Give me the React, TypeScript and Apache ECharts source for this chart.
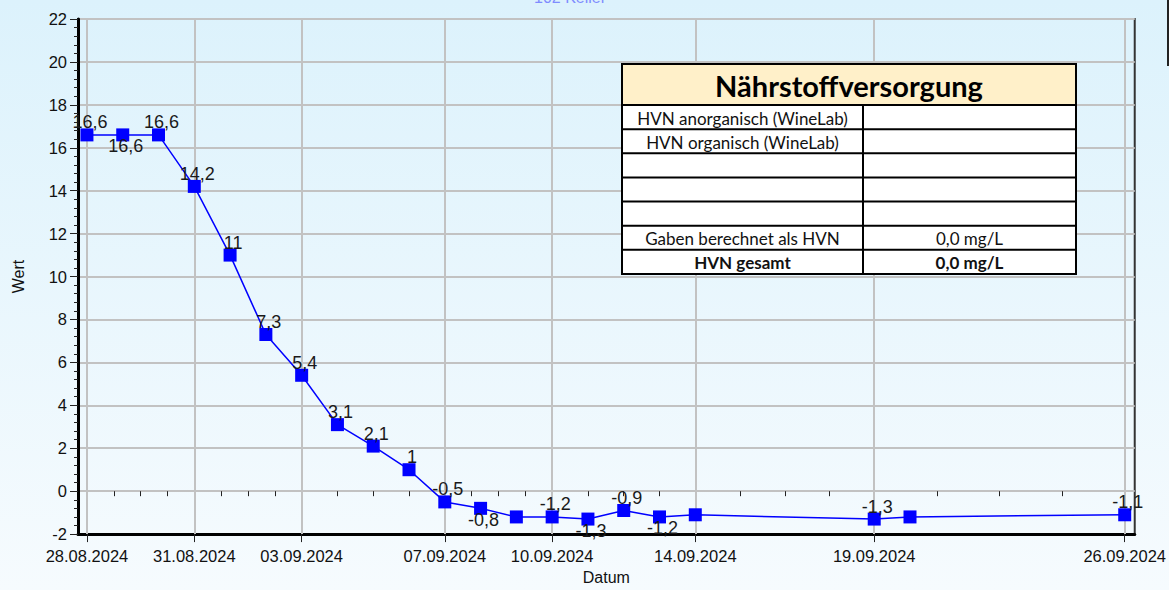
import React, { useEffect, useRef } from "react";
import * as echarts from "echarts";

// ---- data ----
const dates = [
  "2024-08-28", "2024-08-29", "2024-08-30", "2024-08-31", "2024-09-01", "2024-09-02",
  "2024-09-03", "2024-09-04", "2024-09-05", "2024-09-06", "2024-09-07", "2024-09-08",
  "2024-09-09", "2024-09-10", "2024-09-11", "2024-09-12", "2024-09-13", "2024-09-14",
  "2024-09-19", "2024-09-20", "2024-09-26",
];
const values = [
  16.6, 16.6, 16.6, 14.2, 11, 7.3, 5.4, 3.1, 2.1, 1, -0.5, -0.8,
  -1.2, -1.2, -1.3, -0.9, -1.2, -1.1, -1.3, -1.2, -1.1,
];
const labelPlacement = [
  "top", "bottom", "top", "top", "top", "top", "top", "top", "top", "top", "top", "bottom",
  "none", "top", "bottom", "top", "bottom", "none", "top", "none", "top",
];
const xTickDates = [
  "2024-08-28", "2024-08-31", "2024-09-03", "2024-09-07",
  "2024-09-10", "2024-09-14", "2024-09-19", "2024-09-26",
];
const yTicks = { min: -2, max: 22, interval: 2 };
const tableTitle = "Nährstoffversorgung";
const tableLeft = ["HVN anorganisch (WineLab)", "HVN organisch (WineLab)", "", "", "", "Gaben berechnet als HVN", "HVN gesamt"];
const tableRight = ["", "", "", "", "", "0,0 mg/L", "0,0 mg/L"];
const tableBold = [false, false, false, false, false, false, true];
const chartTitle = "102 Keller";

const DAY = 86400000;
const ts = (d: string) => {
  const [y, m, dd] = d.split("-").map(Number);
  return Date.UTC(y, m - 1, dd);
};
const fmt = (v: number) => {
  const d = new Date(Math.round(v));
  const p = (n: number) => String(n).padStart(2, "0");
  return `${p(d.getUTCDate())}.${p(d.getUTCMonth() + 1)}.${d.getUTCFullYear()}`;
};

export default function App() {
  const ref = useRef<HTMLDivElement>(null);
  useEffect(() => {
    document.body.style.margin = "0";
    const chart = echarts.init(ref.current!, null, { renderer: "svg" });
    const majors = xTickDates.map(ts);
    const minors: number[] = [];
    for (let i = 0; i < majors.length - 1; i++) {
      for (let k = 1; k < 4; k++) minors.push(majors[i] + ((majors[i + 1] - majors[i]) * k) / 4);
    }
    const xMin = ts(dates[0]) - 0.25 * DAY;
    const xMax = ts(dates[dates.length - 1]) + 0.28 * DAY;
    const data = dates.map((d, i) => {
      const pos = labelPlacement[i];
      return {
        value: [ts(d), values[i]],
        label:
          pos === "none"
            ? { show: false }
            : { show: true, position: pos, distance: pos === "top" ? -3 : -4 },
      };
    });

    // table geometry
    const tL = 622, tR = 1076, tTop = 64, tTitleB = 105, colX = 863, tB = 274;
    const rowH = (tB - tTitleB) / 7;
    const Z = 100;
    const tableEls: any[] = [];
    tableEls.push({
      type: "rect", z: Z, shape: { x: tL, y: tTop, width: tR - tL, height: tTitleB - tTop },
      style: { fill: "#fff0c9" },
    });
    tableEls.push({
      type: "rect", z: Z, shape: { x: tL, y: tTitleB, width: tR - tL, height: tB - tTitleB },
      style: { fill: "#ffffff" },
    });
    tableEls.push({
      type: "text", z: Z + 2, x: (tL + tR) / 2, y: (tTop + tTitleB) / 2 + 1,
      style: { text: tableTitle, font: "bold 29px Lato", fill: "#000", align: "center", verticalAlign: "middle" },
    });
    for (let i = 0; i < 7; i++) {
      const yTop = tTitleB + i * rowH;
      tableEls.push({
        type: "line", z: Z + 1, shape: { x1: tL, y1: yTop, x2: tR, y2: yTop },
        style: { stroke: "#000", lineWidth: 2 },
      });
      const font = (tableBold[i] ? "bold " : "") + "17px Lato";
      tableEls.push({
        type: "text", z: Z + 2, x: (tL + colX) / 2, y: yTop + rowH / 2 + 1,
        style: { text: tableLeft[i], font, fill: "#111", align: "center", verticalAlign: "middle" },
      });
      tableEls.push({
        type: "text", z: Z + 2, x: (colX + tR) / 2, y: yTop + rowH / 2 + 1,
        style: { text: tableRight[i], font, fill: "#111", align: "center", verticalAlign: "middle" },
      });
    }
    tableEls.push({
      type: "line", z: Z + 1, shape: { x1: colX, y1: tTitleB, x2: colX, y2: tB },
      style: { stroke: "#000", lineWidth: 2 },
    });
    tableEls.push({
      type: "rect", z: Z + 1, shape: { x: tL, y: tTop, width: tR - tL, height: tB - tTop },
      style: { fill: "none", stroke: "#000", lineWidth: 2 },
    });

    chart.setOption({
      animation: false,
      backgroundColor: new echarts.graphic.LinearGradient(0, 0, 0, 1, [
        { offset: 0, color: "#dcf2fc" },
        { offset: 1, color: "#f6fbfe" },
      ]),
      textStyle: { fontFamily: "Liberation Sans, Arial, sans-serif" },
      grid: {
        left: 78, right: 34, top: 19, bottom: 51,
        show: true, borderColor: "#333", borderWidth: 2, backgroundColor: "transparent",
      },
      xAxis: [
        {
          type: "value", min: xMin, max: xMax, scale: true,
          name: "Datum", nameLocation: "middle", nameGap: 34,
          nameTextStyle: { fontSize: 16, color: "#111" },
          axisLine: { show: true, onZero: false, lineStyle: { color: "#000", width: 3 } },
          axisTick: { show: true, customValues: majors, length: 8, lineStyle: { color: "#222", width: 1 } },
          axisLabel: {
            customValues: majors, formatter: (v: number) => fmt(v),
            fontSize: 16.5, color: "#111", margin: 13, hideOverlap: false,
          },
          splitLine: { show: false },
        },
        {
          type: "value", min: xMin, max: xMax, scale: true, position: "bottom",
          axisLine: { show: false },
          axisTick: { show: true, customValues: minors, length: 5, lineStyle: { color: "#222", width: 1 } },
          axisLabel: { show: false },
          splitLine: { show: false },
        },
      ],
      yAxis: {
        type: "value", min: yTicks.min, max: yTicks.max, interval: yTicks.interval,
        name: "Wert", nameLocation: "middle", nameGap: 52,
        nameTextStyle: { fontSize: 16, color: "#111" },
        axisLine: { show: true, onZero: false, lineStyle: { color: "#000", width: 3 } },
        axisTick: { show: true, length: 8, lineStyle: { color: "#222" } },
        minorTick: { show: true, splitNumber: 5, length: 4, lineStyle: { color: "#222" } },
        axisLabel: { fontSize: 16.5, color: "#111", margin: 11 },
        splitLine: { show: true, lineStyle: { color: "#c2c2c2", width: 2 } },
      },
      series: [
        {
          type: "line", data: [], z: 1, silent: true, xAxisIndex: 0,
          markLine: {
            silent: true, symbol: "none", z: 1,
            label: { show: false },
            lineStyle: { color: "#c2c2c2", width: 2, type: "solid" },
            data: majors.map((m) => ({ xAxis: m })),
          },
        },
        {
          type: "line", data, z: 3, xAxisIndex: 0,
          symbol: "rect", symbolSize: 13,
          itemStyle: { color: "#0000ff" },
          lineStyle: { color: "#0000ff", width: 1.5 },
          label: {
            fontSize: 18, color: "#1a1a1a", offset: [3, 0],
            formatter: (p: any) => String(p.value[1]).replace(".", ","),
          },
        },
      ],
      graphic: [
        {
          type: "text", x: 570, y: 5,
          style: { text: chartTitle, font: "16px Liberation Sans", fill: "#7f8cff", align: "center", verticalAlign: "bottom" },
        },
        {
          type: "line", shape: { x1: 1168, y1: 0, x2: 1168, y2: 66 },
          style: { stroke: "#222", lineWidth: 2 },
        },
        ...tableEls,
      ],
    });
    return () => chart.dispose();
  }, []);
  return <div ref={ref} style={{ width: 1169, height: 590 }} />;
}
